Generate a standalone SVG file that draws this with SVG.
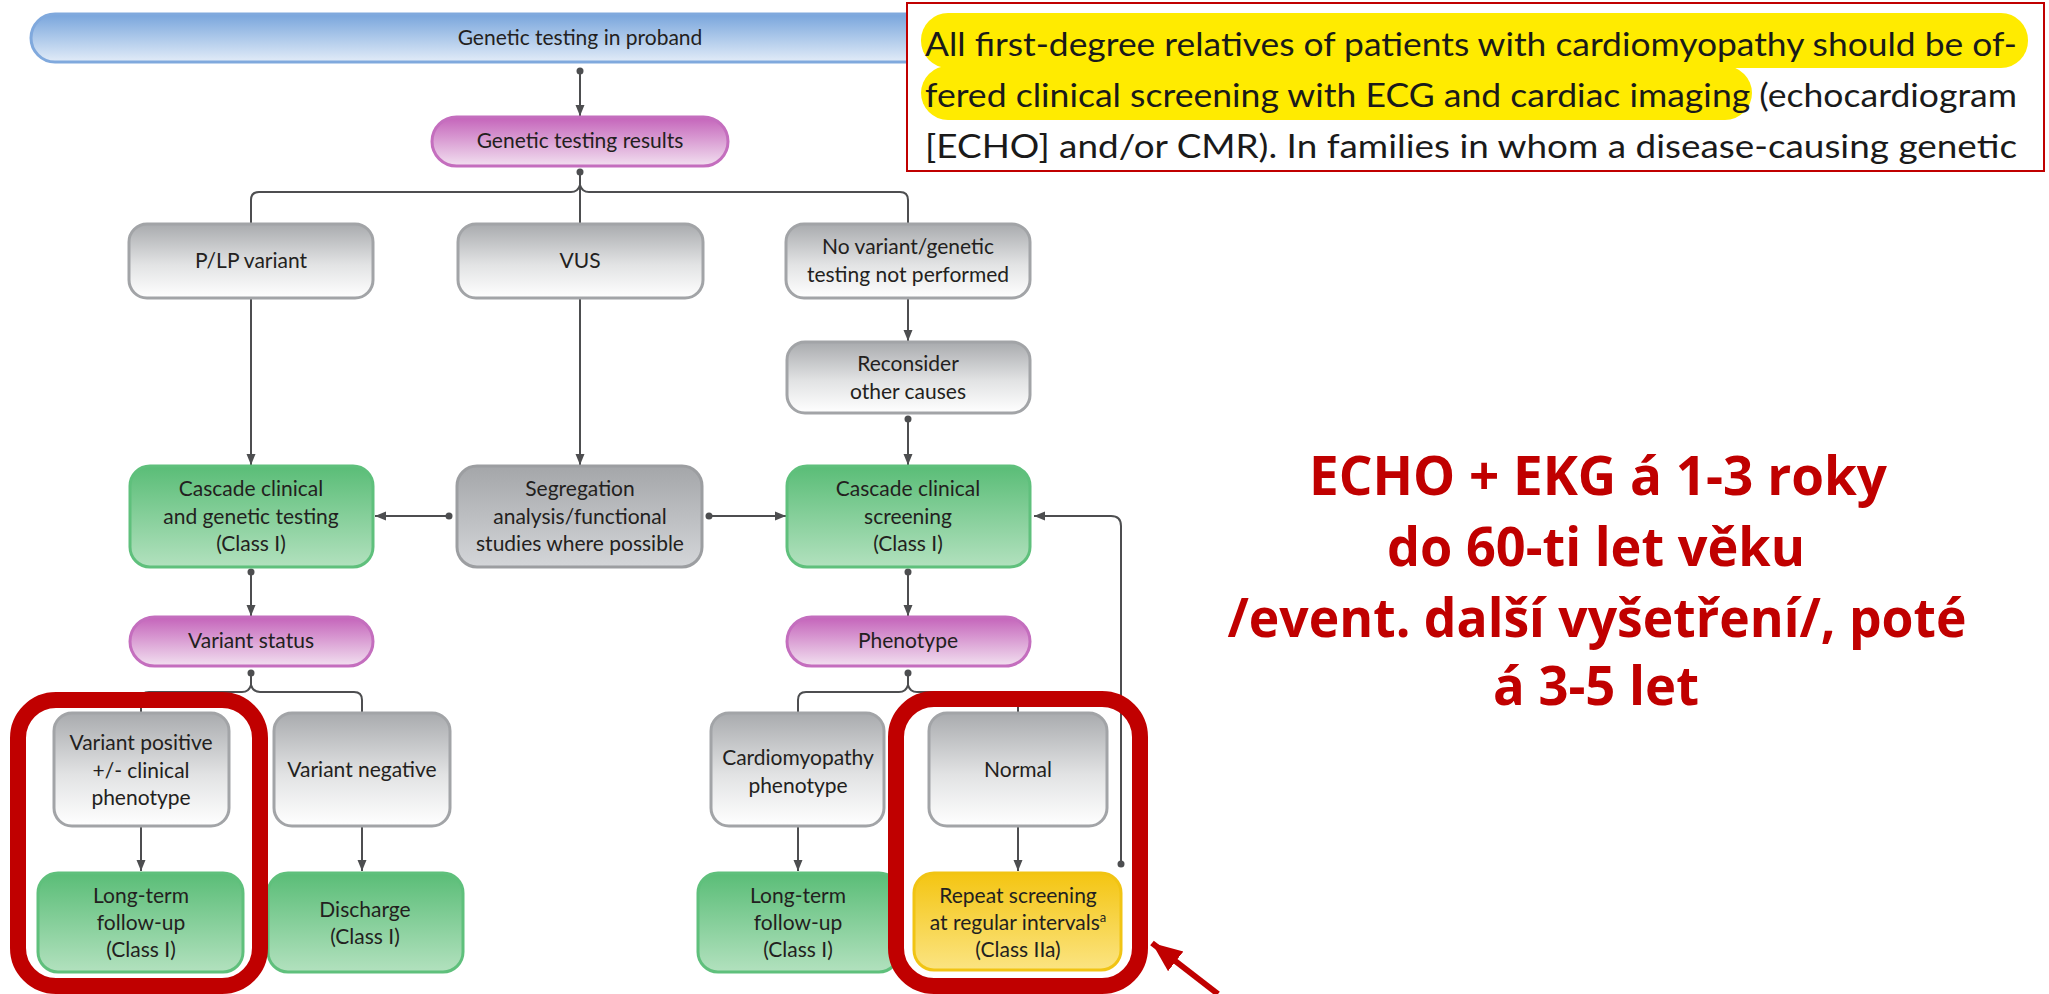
<svg xmlns="http://www.w3.org/2000/svg" width="2049" height="994" viewBox="0 0 2049 994">
<defs>
<linearGradient id="gGray" x1="0" y1="0" x2="0" y2="1"><stop offset="0" stop-color="#a9abae"/><stop offset="0.55" stop-color="#e2e3e4"/><stop offset="1" stop-color="#ffffff"/></linearGradient>
<linearGradient id="gSeg" x1="0" y1="0" x2="0" y2="1"><stop offset="0" stop-color="#a4a6a9"/><stop offset="1" stop-color="#d4d6d9"/></linearGradient>
<linearGradient id="gGreen" x1="0" y1="0" x2="0" y2="1"><stop offset="0" stop-color="#5abd77"/><stop offset="1" stop-color="#b2e1be"/></linearGradient>
<linearGradient id="gMag" x1="0" y1="0" x2="0" y2="1"><stop offset="0" stop-color="#c463ba"/><stop offset="1" stop-color="#f2e0f0"/></linearGradient>
<linearGradient id="gYel" x1="0" y1="0" x2="0" y2="1"><stop offset="0" stop-color="#f4c512"/><stop offset="1" stop-color="#fbe482"/></linearGradient>
<linearGradient id="gBlue" x1="0" y1="0" x2="0" y2="1"><stop offset="0" stop-color="#78a5dc"/><stop offset="1" stop-color="#e2ecf8"/></linearGradient>
<marker id="arr" markerUnits="userSpaceOnUse" markerWidth="12" markerHeight="12" viewBox="0 0 12 12" refX="11" refY="6" orient="auto"><path d="M0,1.5 L11,6 L0,10.5 Z" fill="#4d4e50"/></marker>
<marker id="redarr" markerUnits="userSpaceOnUse" markerWidth="32" markerHeight="28" viewBox="0 0 32 28" refX="30" refY="14" orient="auto"><path d="M0,1.5 L30,14 L0,26.5 Z" fill="#c00000"/></marker>
<style>
.gray{fill:url(#gGray);stroke:#a2a4a7;stroke-width:3}
.seg{fill:url(#gSeg);stroke:#9c9ea1;stroke-width:3}
.green{fill:url(#gGreen);stroke:#5fc07c;stroke-width:3}
.mag{fill:url(#gMag);stroke:#c46ebe;stroke-width:3}
.yel{fill:url(#gYel);stroke:#f1c414;stroke-width:3}
.blue{fill:url(#gBlue);stroke:#80a9dd;stroke-width:3}
.lbl{font-family:Lato,"Liberation Sans",sans-serif;font-size:21px;fill:#231f20;text-anchor:middle}
.con{fill:none;stroke:#4d4e50;stroke-width:2}
.dot{fill:#4d4e50}
.red{fill:none;stroke:#c00000;stroke-width:16}
.para{font-family:Lato,"Liberation Sans",sans-serif;font-size:33px;fill:#1a1a1a}
.note{font-family:"Open Sans","Liberation Sans",sans-serif;font-weight:bold;font-size:53px;fill:#c00000;text-anchor:middle}
</style>
</defs>
<rect width="2049" height="994" fill="#ffffff"/>

<g id="proband"><rect class="blue" x="31" y="14" width="1098" height="48" rx="24"/><text class="lbl" x="580" y="45">Genetic testing in proband</text></g>

<g id="quote">
<rect x="907" y="3" width="1137" height="168" fill="#ffffff" stroke="#c00000" stroke-width="2"/>
<rect x="921" y="13" width="1107" height="55" rx="27" fill="#ffeb00"/>
<rect x="921" y="66" width="831" height="54" rx="27" fill="#ffeb00"/>
<text class="para" x="925" y="56" textLength="1092" lengthAdjust="spacingAndGlyphs">All first-degree relatives of patients with cardiomyopathy should be of-</text>
<text class="para" x="925" y="107" textLength="1092" lengthAdjust="spacingAndGlyphs">fered clinical screening with ECG and cardiac imaging (echocardiogram</text>
<text class="para" x="925" y="158" textLength="1092" lengthAdjust="spacingAndGlyphs">[ECHO] and/or CMR). In families in whom a disease-causing genetic</text>
</g>

<g id="connectors">
<circle class="dot" cx="580" cy="71" r="3.5"/><path class="con" d="M580,71 V116" marker-end="url(#arr)"/>
<circle class="dot" cx="580" cy="172" r="3.5"/>
<path class="con" d="M580,172 V224"/>
<path class="con" d="M251,224 V200 Q251,192 259,192 H571 Q578,192 580,185"/>
<path class="con" d="M908,224 V200 Q908,192 900,192 H589 Q582,192 580,185"/>
<path class="con" d="M251,298 V465" marker-end="url(#arr)"/>
<path class="con" d="M580,298 V465" marker-end="url(#arr)"/>
<path class="con" d="M908,298 V341" marker-end="url(#arr)"/>
<circle class="dot" cx="908" cy="419" r="3.5"/><path class="con" d="M908,419 V465" marker-end="url(#arr)"/>
<circle class="dot" cx="449" cy="516" r="3.5"/><path class="con" d="M449,516 H375" marker-end="url(#arr)"/>
<circle class="dot" cx="709" cy="516" r="3.5"/><path class="con" d="M709,516 H786" marker-end="url(#arr)"/>
<circle class="dot" cx="251" cy="572" r="3.5"/><path class="con" d="M251,572 V616" marker-end="url(#arr)"/>
<circle class="dot" cx="908" cy="572" r="3.5"/><path class="con" d="M908,572 V616" marker-end="url(#arr)"/>
<circle class="dot" cx="251" cy="673" r="3.5"/>
<path class="con" d="M251,673 V686"/>
<path class="con" d="M141,713 V700 Q141,692 149,692 H242 Q249,692 251,685"/>
<path class="con" d="M362,713 V700 Q362,692 354,692 H260 Q253,692 251,685"/>
<circle class="dot" cx="908" cy="673" r="3.5"/>
<path class="con" d="M908,673 V686"/>
<path class="con" d="M798,713 V700 Q798,692 806,692 H899 Q906,692 908,685"/>
<path class="con" d="M1018,713 V700 Q1018,692 1010,692 H917 Q910,692 908,685"/>
<path class="con" d="M141,826 V871" marker-end="url(#arr)"/>
<path class="con" d="M362,826 V871" marker-end="url(#arr)"/>
<path class="con" d="M798,826 V871" marker-end="url(#arr)"/>
<path class="con" d="M1018,826 V871" marker-end="url(#arr)"/>
<circle class="dot" cx="1121" cy="864" r="3.5"/>
<path class="con" d="M1121,864 V526 Q1121,516 1111,516 H1034" marker-end="url(#arr)"/>
</g>

<g id="results"><rect class="mag" x="432" y="117" width="296" height="49" rx="24.5"/><text class="lbl" x="580" y="148">Genetic testing results</text></g>
<g id="plp"><rect class="gray" x="129" y="224" width="244" height="74" rx="18"/><text class="lbl" x="251" y="268">P/LP variant</text></g>
<g id="vus"><rect class="gray" x="458" y="224" width="245" height="74" rx="18"/><text class="lbl" x="580" y="268">VUS</text></g>
<g id="novariant"><rect class="gray" x="786" y="224" width="244" height="74" rx="18"/><text class="lbl" x="908" y="254">No variant/genetic</text><text class="lbl" x="908" y="282">testing not performed</text></g>
<g id="reconsider"><rect class="gray" x="787" y="342" width="243" height="71" rx="18"/><text class="lbl" x="908" y="371">Reconsider</text><text class="lbl" x="908" y="399">other causes</text></g>
<g id="cascadegen"><rect class="green" x="130" y="466" width="243" height="101" rx="20"/><text class="lbl" x="251" y="496">Cascade clinical</text><text class="lbl" x="251" y="524">and genetic testing</text><text class="lbl" x="251" y="551">(Class I)</text></g>
<g id="segregation"><rect class="seg" x="457" y="466" width="245" height="101" rx="20"/><text class="lbl" x="580" y="496">Segregation</text><text class="lbl" x="580" y="524">analysis/functional</text><text class="lbl" x="580" y="551">studies where possible</text></g>
<g id="cascadescr"><rect class="green" x="787" y="466" width="243" height="101" rx="20"/><text class="lbl" x="908" y="496">Cascade clinical</text><text class="lbl" x="908" y="524">screening</text><text class="lbl" x="908" y="551">(Class I)</text></g>
<g id="variantstatus"><rect class="mag" x="130" y="617" width="243" height="49" rx="24.5"/><text class="lbl" x="251" y="648">Variant status</text></g>
<g id="phenotype"><rect class="mag" x="787" y="617" width="243" height="49" rx="24.5"/><text class="lbl" x="908" y="648">Phenotype</text></g>
<g id="varpos"><rect class="gray" x="54" y="713" width="175" height="113" rx="18"/><text class="lbl" x="141" y="750">Variant positive</text><text class="lbl" x="141" y="778">+/- clinical</text><text class="lbl" x="141" y="805">phenotype</text></g>
<g id="varneg"><rect class="gray" x="274" y="713" width="176" height="113" rx="18"/><text class="lbl" x="362" y="777">Variant negative</text></g>
<g id="cmp"><rect class="gray" x="711" y="713" width="173" height="113" rx="18"/><text class="lbl" x="798" y="765">Cardiomyopathy</text><text class="lbl" x="798" y="793">phenotype</text></g>
<g id="normal"><rect class="gray" x="929" y="713" width="178" height="113" rx="18"/><text class="lbl" x="1018" y="777">Normal</text></g>
<g id="ltfu1"><rect class="green" x="38" y="873" width="205" height="99" rx="20"/><text class="lbl" x="141" y="903">Long-term</text><text class="lbl" x="141" y="930">follow-up</text><text class="lbl" x="141" y="957">(Class I)</text></g>
<g id="discharge"><rect class="green" x="268" y="873" width="195" height="99" rx="20"/><text class="lbl" x="365" y="917">Discharge</text><text class="lbl" x="365" y="944">(Class I)</text></g>
<g id="ltfu2"><rect class="green" x="698" y="873" width="201" height="99" rx="20"/><text class="lbl" x="798" y="903">Long-term</text><text class="lbl" x="798" y="930">follow-up</text><text class="lbl" x="798" y="957">(Class I)</text></g>
<g id="repeat"><rect class="yel" x="914" y="873" width="207" height="97" rx="20"/><text class="lbl" x="1018" y="903">Repeat screening</text><text class="lbl" x="1018" y="930">at regular intervals<tspan font-size="13" dy="-8">a</tspan></text><text class="lbl" x="1018" y="957">(Class IIa)</text></g>

<g id="highlights">
<rect class="red" x="18" y="700" width="242" height="286" rx="38"/>
<rect class="red" x="896" y="699" width="244" height="287" rx="38"/>
<path d="M1218,994 L1152,943" stroke="#c00000" stroke-width="6" fill="none" marker-end="url(#redarr)"/>
</g>

<g id="annotation">
<text class="note" x="1598" y="495" textLength="578" lengthAdjust="spacingAndGlyphs">ECHO + EKG á 1-3 roky</text>
<text class="note" x="1596" y="566" textLength="418" lengthAdjust="spacingAndGlyphs">do 60-ti let věku</text>
<text class="note" x="1597" y="637" textLength="739" lengthAdjust="spacingAndGlyphs">/event. další vyšetření/, poté</text>
<text class="note" x="1596" y="705" textLength="206" lengthAdjust="spacingAndGlyphs">á 3-5 let</text>
</g>
</svg>
